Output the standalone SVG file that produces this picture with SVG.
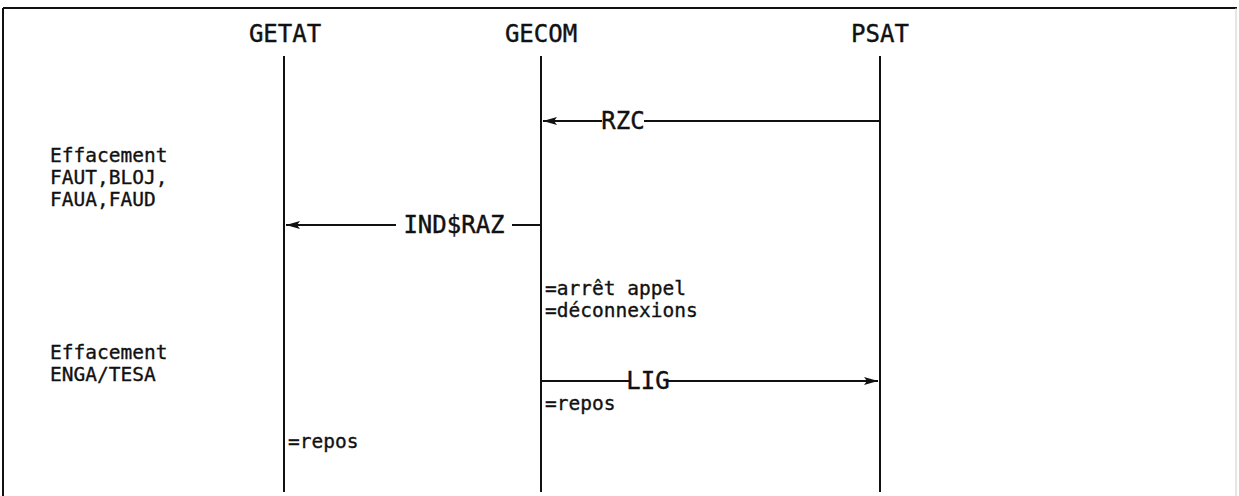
<svg xmlns="http://www.w3.org/2000/svg" width="1239" height="496" viewBox="0 0 1239 496">
  <style>
    .lbl { font-family: "DejaVu Sans Mono", "Liberation Mono", monospace; font-size: 24px; fill: #111; stroke: #111; stroke-width: 0.4; }
    .note { font-family: "DejaVu Sans Mono", "Liberation Mono", monospace; font-size: 19.5px; fill: #111; stroke: #111; stroke-width: 0.35; }
    .life { stroke: #111; stroke-width: 2; fill: none; }
    .msg { stroke: #111; stroke-width: 2.2; fill: none; }
    .frame { stroke: #111; stroke-width: 2; fill: none; }
    .bg { fill: #fff; }
  </style>
  <defs>
    <marker id="arr" viewBox="0 0 14 10" refX="14" refY="5" markerWidth="14" markerHeight="10" markerUnits="userSpaceOnUse" orient="auto">
      <path d="M0,1 L14,5 L0,9 L3,5 Z" fill="#111"/>
    </marker>
  </defs>
  <rect width="1239" height="496" fill="#fff"/>
  <g id="frame">
    <line class="frame" x1="3" y1="8" x2="1237" y2="8"/>
    <line class="frame" x1="3" y1="8" x2="3" y2="496"/>
    <line x1="1236" y1="8" x2="1236" y2="496" stroke="#ccc" stroke-width="1"/>
  </g>
  <g id="node-getat">
    <text class="lbl" x="285" y="42" text-anchor="middle">GETAT</text>
    <line class="life" x1="284" y1="56" x2="284" y2="492"/>
  </g>
  <g id="node-gecom">
    <text class="lbl" x="541" y="42" text-anchor="middle">GECOM</text>
    <line class="life" x1="541" y1="56" x2="541" y2="492"/>
  </g>
  <g id="node-psat">
    <text class="lbl" x="880" y="42" text-anchor="middle">PSAT</text>
    <line class="life" x1="880" y1="56" x2="880" y2="492"/>
  </g>
  <g id="notes">
    <text class="note" x="50" y="162">Effacement</text>
    <text class="note" x="50" y="184">FAUT,BLOJ,</text>
    <text class="note" x="50" y="206">FAUA,FAUD</text>
    <text class="note" x="545" y="295">=arrêt appel</text>
    <text class="note" x="545" y="317">=déconnexions</text>
    <text class="note" x="50" y="359">Effacement</text>
    <text class="note" x="50" y="381">ENGA/TESA</text>
    <text class="note" x="545" y="410">=repos</text>
    <text class="note" x="288" y="448">=repos</text>
  </g>
  <g id="connectors">
    <line class="msg" x1="880" y1="121" x2="543" y2="121" marker-end="url(#arr)"/>
    <rect class="bg" x="602" y="108" width="42" height="24"/>
    <text class="lbl" x="623" y="129" text-anchor="middle">RZC</text>
    <line class="msg" x1="541" y1="225" x2="286" y2="225" marker-end="url(#arr)"/>
    <rect class="bg" x="396" y="212" width="116" height="24"/>
    <text class="lbl" x="454" y="233" text-anchor="middle">IND$RAZ</text>
    <line class="msg" x1="541" y1="381" x2="878" y2="381" marker-end="url(#arr)"/>
    <rect class="bg" x="629" y="368" width="38" height="24"/>
    <text class="lbl" x="648" y="389" text-anchor="middle">LIG</text>
  </g>
</svg>
